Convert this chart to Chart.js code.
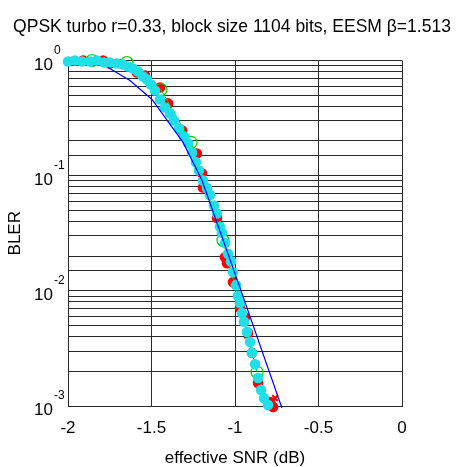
<!DOCTYPE html>
<html>
<head>
<meta charset="utf-8">
<script src="https://cdn.jsdelivr.net/npm/chart.js@4.4.7/dist/chart.umd.min.js"></script>
<style>
  html, body { margin: 0; padding: 0; background: #fff; }
</style>
</head>
<body>
<canvas id="c" width="457" height="467"></canvas>
<script>
const titleText = 'QPSK turbo r=0.33, block size 1104 bits, EESM \u03b2=1.513';
const xTickLabels = { '-2': '-2', '-1.5': '-1.5', '-1': '-1', '-0.5': '-0.5', '0': '0' };
const yDecades = [1, 0.1, 0.01, 0.001];
const yExponents = ['0', '-1', '-2', '-3'];

// AWGN reference curve
const awgnSnr = [-1.760, -1.629, -1.497, -1.311, -1.198, -0.982, -0.719];
const awgnBler = [0.870, 0.671, 0.459, 0.1945, 0.0911, 0.0119, 0.00096];

// cyan dots
const cyanSnr = [-2.000, -1.958, -1.916, -1.868, -1.826, -1.784, -1.749, -1.707, -1.671, -1.641,
  -1.611, -1.581, -1.551, -1.527, -1.503, -1.479, -1.449, -1.419, -1.389, -1.365,
  -1.335, -1.305, -1.281, -1.257, -1.234, -1.216, -1.192, -1.168, -1.150, -1.126,
  -1.108, -1.090, -1.078, -1.060, -1.042, -1.024, -1.012, -0.994, -0.982, -0.970,
  -0.958, -0.946, -0.928, -0.910, -0.898, -0.880, -0.862, -0.844, -0.826, -0.802];
const cyanBler = [0.980, 1.0, 0.980, 0.980, 1.0, 0.961, 0.961, 0.942, 0.923, 0.887,
  0.852, 0.803, 0.727, 0.684, 0.619, 0.549, 0.459, 0.391, 0.347, 0.302,
  0.257, 0.219, 0.191, 0.159, 0.131, 0.111, 0.091, 0.078, 0.068, 0.055,
  0.047, 0.036, 0.032, 0.026, 0.021, 0.018, 0.0145, 0.0112, 0.0090, 0.0078,
  0.0064, 0.0054, 0.0044, 0.0036, 0.0029, 0.0023, 0.00175, 0.00138, 0.00117, 0.00102];

// red dots
const redSnr = [-1.910, -1.790, -1.749, -1.587, -1.539, -1.449, -1.401, -1.317, -1.228, -1.198, -1.192,
  -1.108, -1.060, -1.048, -1.012, -0.970, -0.940, -0.922, -0.898, -0.862, -0.790, -0.772];
const redBler = [1.0, 1.0, 0.942, 0.787, 0.741, 0.583, 0.424, 0.247, 0.156, 0.105, 0.079,
  0.043, 0.0196, 0.0174, 0.0119, 0.0071, 0.0059, 0.0043, 0.0029, 0.00158, 0.00108, 0.00098];

// red crosses
const crossSnr = [-1.87, -1.78, -1.70, -1.56, -1.33, -1.05, -0.928, -0.76];
const crossBler = [1.0, 1.0, 0.97, 0.76, 0.26, 0.018, 0.0041, 0.00117];

// green circles
const greenSnr = [-1.856, -1.647, -1.443, -1.263, -1.072, -0.868];
const greenBler = [1.0, 0.961, 0.560, 0.1945, 0.0275, 0.00197];

const pts = (xs, ys) => xs.map((x, i) => ({ x: x, y: ys[i] }));

const FONT = '"Liberation Sans", Arial, sans-serif';
Chart.defaults.font.family = FONT;
Chart.defaults.color = '#000';

const GRID = '#2a2a2a';

const decadeLabels = {
  id: 'decadeLabels',
  afterDraw(chart) {
    const ctx = chart.ctx;
    const y = chart.scales.y;
    ctx.save();
    ctx.fillStyle = '#000';
    ctx.textBaseline = 'alphabetic';
    yDecades.forEach((v, i) => {
      const py = y.getPixelForValue(v);
      ctx.font = '17px ' + FONT;
      ctx.textAlign = 'right';
      ctx.fillText('10', 53, py + 9);
      ctx.font = '12px ' + FONT;
      ctx.textAlign = 'left';
      ctx.fillText(yExponents[i], 54, py - 7);
    });
    ctx.restore();
  }
};

new Chart(document.getElementById('c'), {
  type: 'scatter',
  data: {
    datasets: [
      {
        data: pts(awgnSnr, awgnBler),
        showLine: true,
        borderColor: '#0000ff',
        borderWidth: 1.2,
        pointRadius: 0,
        clip: false
      },
      {
        data: pts(cyanSnr, cyanBler),
        backgroundColor: '#1fe0e8',
        borderColor: '#1fe0e8',
        pointRadius: 5.3,
        borderWidth: 0,
        clip: false
      },
      {
        data: pts(greenSnr, greenBler),
        showLine: true,
        borderColor: '#00d000',
        borderWidth: 1,
        backgroundColor: 'rgba(0,0,0,0)',
        pointRadius: 6,
        pointBorderWidth: 1.2,
        pointBorderColor: '#00d000',
        clip: false
      },
      {
        data: pts(crossSnr, crossBler),
        pointStyle: 'crossRot',
        borderColor: '#ff0000',
        pointRadius: 4,
        pointBorderWidth: 2,
        clip: false
      },
      {
        data: pts(redSnr, redBler),
        backgroundColor: '#ff0000',
        borderColor: '#ff0000',
        pointRadius: 5.3,
        borderWidth: 0,
        clip: false
      }
    ]
  },
  options: {
    responsive: false,
    animation: false,
    layout: { padding: { left: 7, right: 0, top: 0, bottom: 0 } },
    plugins: {
      legend: { display: false },
      tooltip: { enabled: false },
      title: {
        display: true,
        text: titleText,
        color: '#000',
        font: { size: 17.5, weight: 'normal', lineHeight: 1 },
        padding: { top: 18, bottom: 25 }
      }
    },
    scales: {
      x: {
        type: 'linear',
        position: 'bottom',
        min: -2,
        max: 0,
        ticks: {
          stepSize: 0.5,
          font: { size: 17 },
          color: '#000',
          padding: 12,
          callback: v => xTickLabels[String(v)] ?? ''
        },
        grid: { color: GRID, lineWidth: 1, drawTicks: false },
        border: { color: GRID },
        title: {
          display: true,
          text: 'effective SNR (dB)',
          color: '#000',
          font: { size: 17, lineHeight: 1 },
          padding: 0
        },
        afterFit: s => { s.height = 61; }
      },
      y: {
        type: 'logarithmic',
        position: 'left',
        min: 0.001,
        max: 1,
        ticks: { display: false, autoSkip: false },
        grid: { color: GRID, lineWidth: 1, drawTicks: false },
        border: { color: GRID },
        title: {
          display: true,
          text: 'BLER',
          color: '#000',
          font: { size: 17, lineHeight: 1 },
          padding: 0
        },
        afterFit: s => { s.width = 61; }
      },
      yRight: {
        axis: 'y',
        type: 'linear',
        position: 'right',
        ticks: { display: false },
        grid: { display: false },
        border: { display: false },
        afterFit: s => { s.width = 55; }
      }
    }
  },
  plugins: [decadeLabels]
});
</script>
</body>
</html>
